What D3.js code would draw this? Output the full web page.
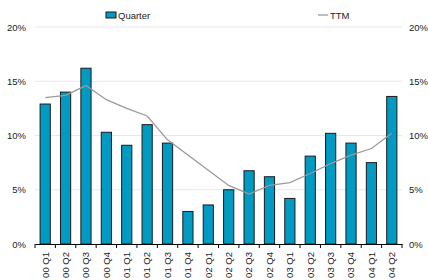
<!DOCTYPE html>
<html>
<head>
<meta charset="utf-8">
<script src="https://cdn.jsdelivr.net/npm/d3@7"></script>
<style>
  body { margin: 0; background: #fff; }
  svg { font-family: "Liberation Sans", Arial, sans-serif; }
  .axis text { fill: #222; font-size: 9.5px; }
</style>
</head>
<body>
<svg width="428" height="280"></svg>
<script>
var quarters = ["00 Q1", "00 Q2", "00 Q3", "00 Q4", "01 Q1", "01 Q2", "01 Q3", "01 Q4",
                "02 Q1", "02 Q2", "02 Q3", "02 Q4", "03 Q1", "03 Q2", "03 Q3", "03 Q4",
                "04 Q1", "04 Q2"];
var quarterVals = [12.9, 14.0, 16.2, 10.3, 9.1, 11.0, 9.3, 3.0,
                   3.6, 5.0, 6.75, 6.2, 4.2, 8.1, 10.2, 9.3,
                   7.5, 13.6];
var ttmVals = [13.5, 13.7, 14.6, 13.3, 12.5, 11.8, 9.6, 8.2,
               6.8, 5.4, 4.6, 5.4, 5.65, 6.5, 7.4, 8.2,
               8.8, 10.2];
var yTicks = [0, 5, 10, 15, 20];

function init() {
    var svg = d3.select("svg"),
        margin = {top: 27, right: 26, bottom: 36, left: 35},
        width = +svg.attr("width") - margin.left - margin.right,
        height = +svg.attr("height") - margin.top - margin.bottom;

    var x = d3.scaleBand().domain(quarters).range([0, width]).paddingInner(0.5).paddingOuter(0.25),
        y = d3.scaleLinear().domain([0, 20]).range([height, 0]);

    var g = svg.append("g")
        .attr("transform", "translate(" + margin.left + "," + margin.top + ")");

    // gridlines
    g.selectAll("line.grid")
        .data(yTicks.filter(function(d) { return d > 0; }))
        .enter().append("line")
        .attr("class", "grid")
        .attr("x1", 0).attr("x2", width)
        .attr("y1", function(d) { return y(d); })
        .attr("y2", function(d) { return y(d); })
        .attr("stroke", "#e8e8e8")
        .attr("stroke-width", 1);

    var fmt = function(d) { return d + "%"; };

    var yLeft = g.append("g").attr("class", "axis")
        .call(d3.axisLeft(y).tickValues(yTicks).tickFormat(fmt).tickSize(0).tickPadding(9));
    yLeft.select(".domain").remove();

    var yRight = g.append("g").attr("class", "axis")
        .attr("transform", "translate(" + width + ",0)")
        .call(d3.axisRight(y).tickValues(yTicks).tickFormat(fmt).tickSize(0).tickPadding(7));
    yRight.select(".domain").remove();

    // bars
    g.selectAll("rect.bar")
        .data(quarterVals)
        .enter().append("rect")
        .attr("class", "bar")
        .attr("x", function(d, i) { return x(quarters[i]); })
        .attr("y", function(d) { return y(d); })
        .attr("width", x.bandwidth())
        .attr("height", function(d) { return height - y(d); })
        .attr("fill", "#009ac2")
        .attr("stroke", "#1b1b1b")
        .attr("stroke-width", 1);

    // x axis
    var xAxis = g.append("g").attr("class", "axis")
        .attr("transform", "translate(0," + height + ")")
        .call(d3.axisBottom(x).tickSize(0));
    xAxis.select(".domain").attr("stroke", "#000");
    xAxis.selectAll(".tick text")
        .attr("transform", "rotate(-90)")
        .attr("text-anchor", "end")
        .attr("x", -8)
        .attr("y", 0)
        .attr("dy", "0.35em");
    // boundary ticks between categories
    var step = x.step();
    var bounds = d3.range(quarters.length + 1).map(function(i) { return x(quarters[0]) - step * 0.25 + i * step; });
    xAxis.selectAll("line.sep")
        .data(bounds)
        .enter().append("line")
        .attr("class", "sep")
        .attr("x1", function(d) { return Math.min(d, width); })
        .attr("x2", function(d) { return Math.min(d, width); })
        .attr("y1", 0).attr("y2", 4)
        .attr("stroke", "#000");

    // TTM line
    var line = d3.line()
        .x(function(d, i) { return x(quarters[i]) + x.bandwidth() / 2; })
        .y(function(d) { return y(d); });
    g.append("path")
        .datum(ttmVals)
        .attr("d", line)
        .attr("fill", "none")
        .attr("stroke", "#9a9a9a")
        .attr("stroke-width", 1.3);

    // legend
    var lg = svg.append("g").attr("font-size", "9.5px").attr("fill", "#222");
    lg.append("rect").attr("x", 106).attr("y", 12).attr("width", 10).attr("height", 6)
        .attr("fill", "#009ac2").attr("stroke", "#1b1b1b");
    lg.append("text").attr("x", 118).attr("y", 18.5).text("Quarter");
    lg.append("line").attr("x1", 318).attr("x2", 328).attr("y1", 15).attr("y2", 15)
        .attr("stroke", "#9a9a9a").attr("stroke-width", 1.3);
    lg.append("text").attr("x", 330).attr("y", 18.5).text("TTM");
}
init();
</script>
</body>
</html>
